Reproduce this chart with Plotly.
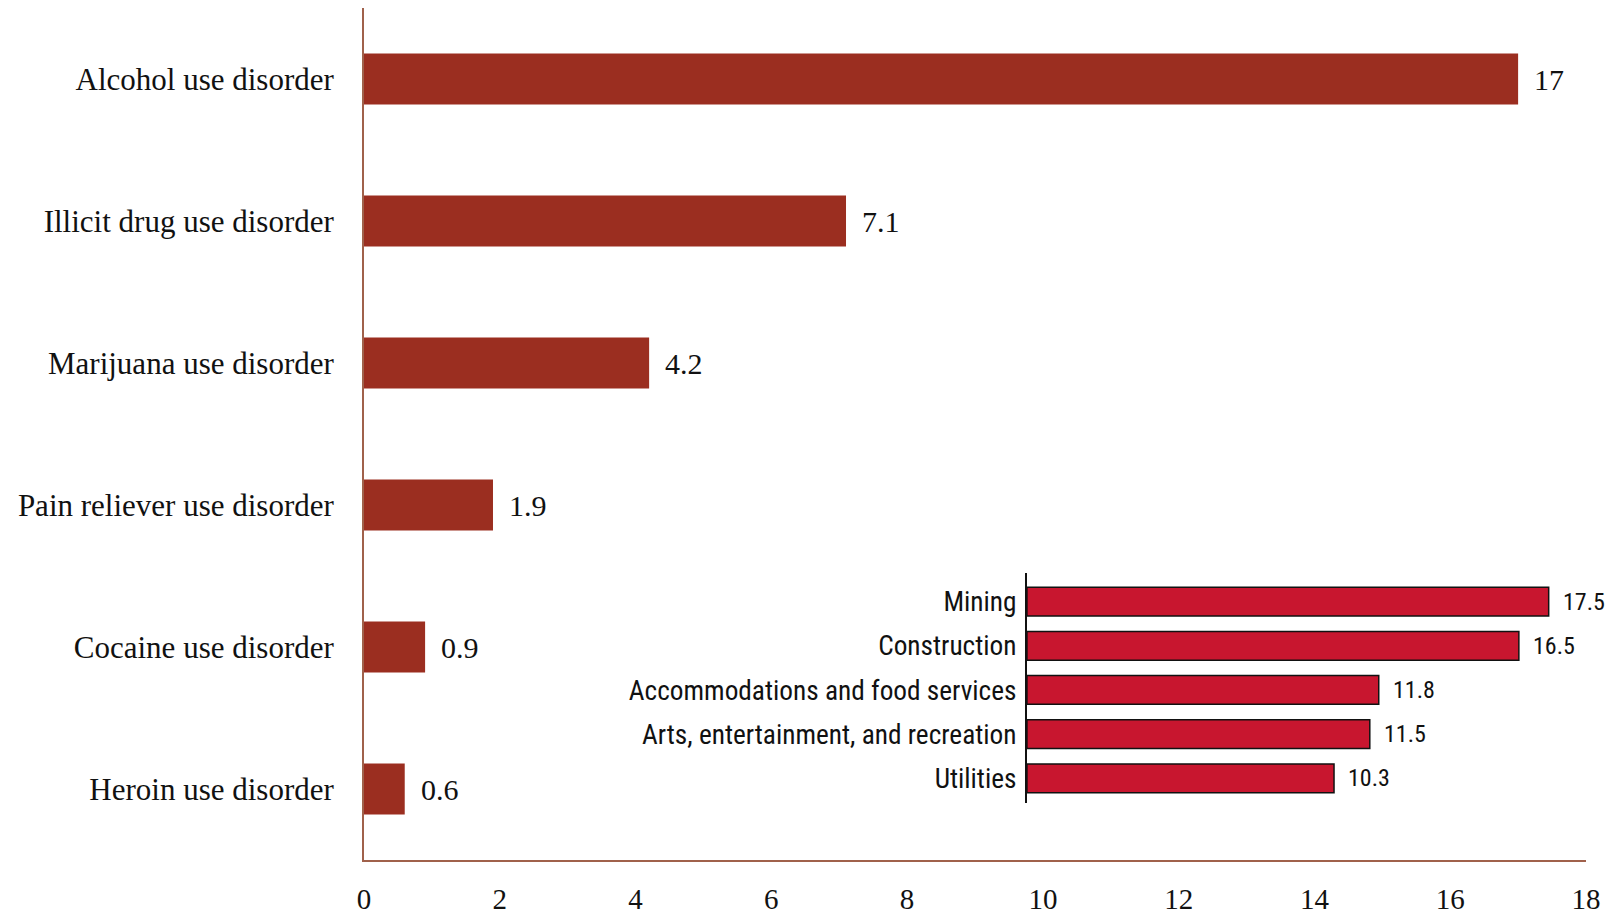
import plotly.graph_objects as go

# Main chart data
disorders = ["Alcohol use disorder", "Illicit drug use disorder", "Marijuana use disorder",
             "Pain reliever use disorder", "Cocaine use disorder", "Heroin use disorder"]
disorder_values = [17, 7.1, 4.2, 1.9, 0.9, 0.6]
disorder_labels = ["17", "7.1", "4.2", "1.9", "0.9", "0.6"]
x_ticks = [0, 2, 4, 6, 8, 10, 12, 14, 16, 18]

# Inset data
industries = ["Mining", "Construction", "Accommodations and food services",
              "Arts, entertainment, and recreation", "Utilities"]
industry_values = [17.5, 16.5, 11.8, 11.5, 10.3]
industry_labels = ["17.5", "16.5", "11.8", "11.5", "10.3"]

SERIF = "Liberation Serif, Times New Roman, serif"
NARROW = "Liberation Sans Narrow, Arial Narrow, Roboto Condensed, Roboto, sans-serif"
AXIS_BROWN = "#A0614B"

fig = go.Figure()

fig.add_trace(go.Bar(
    x=disorder_values, y=disorders, orientation="h",
    marker=dict(color="#9B2E20", line=dict(width=0)),
    width=0.36, xaxis="x", yaxis="y", hoverinfo="skip",
))

fig.add_trace(go.Bar(
    x=industry_values, y=industries, orientation="h",
    marker=dict(color="#C8162F", line=dict(color="#111111", width=1.5)),
    width=0.65, xaxis="x2", yaxis="y2", hoverinfo="skip",
))

annotations = []
for v, cat, lab in zip(disorder_values, disorders, disorder_labels):
    annotations.append(dict(x=v, y=cat, xref="x", yref="y", text=lab, showarrow=False,
                            xanchor="left", yanchor="middle", xshift=14,
                            font=dict(family=SERIF, size=30, color="#111111")))
for v, cat, lab in zip(industry_values, industries, industry_labels):
    annotations.append(dict(x=v, y=cat, xref="x2", yref="y2", text=lab, showarrow=False,
                            xanchor="left", yanchor="middle", xshift=12,
                            font=dict(family=NARROW, size=24, color="#111111")))

fig.update_layout(
    width=1610, height=915,
    margin=dict(l=364, r=24, t=8, b=55),
    paper_bgcolor="white", plot_bgcolor="white",
    showlegend=False,
    annotations=annotations,
    xaxis=dict(
        domain=[0, 1], range=[0, 18], tickvals=x_ticks, ticktext=[str(t) for t in x_ticks],
        showgrid=False, zeroline=False, showline=True, linecolor=AXIS_BROWN, linewidth=2,
        ticks="", ticklabelstandoff=12, automargin=False,
        tickfont=dict(family=SERIF, size=29, color="#111111"), fixedrange=True,
    ),
    yaxis=dict(
        domain=[0, 1], categoryorder="array", categoryarray=disorders, range=[5.5, -0.5],
        showgrid=False, zeroline=False, showline=True, linecolor=AXIS_BROWN, linewidth=2,
        ticks="", ticklabelstandoff=22, automargin=False,
        tickfont=dict(family=SERIF, size=31, color="#111111"), fixedrange=True,
    ),
    xaxis2=dict(
        domain=[0.5425, 0.9963], range=[0, 18.6], anchor="y2",
        showgrid=False, zeroline=False, showline=False, showticklabels=False, ticks="",
        automargin=False, fixedrange=True,
    ),
    yaxis2=dict(
        domain=[0.0674, 0.3369], anchor="x2", categoryorder="array", categoryarray=industries,
        range=[4.55, -0.65],
        showgrid=False, zeroline=False, showline=True, linecolor="#111111", linewidth=2,
        ticks="", ticklabelstandoff=3, automargin=False,
        tickfont=dict(family=NARROW, size=27.3, color="#111111"), fixedrange=True,
    ),
    bargap=0.3,
)

# Remove the default page margin so the fixed-size figure fills the window exactly
fig.write_html("out.html", config={"displayModeBar": False},
               post_script="document.body.style.margin='0';document.body.style.overflow='hidden';")
